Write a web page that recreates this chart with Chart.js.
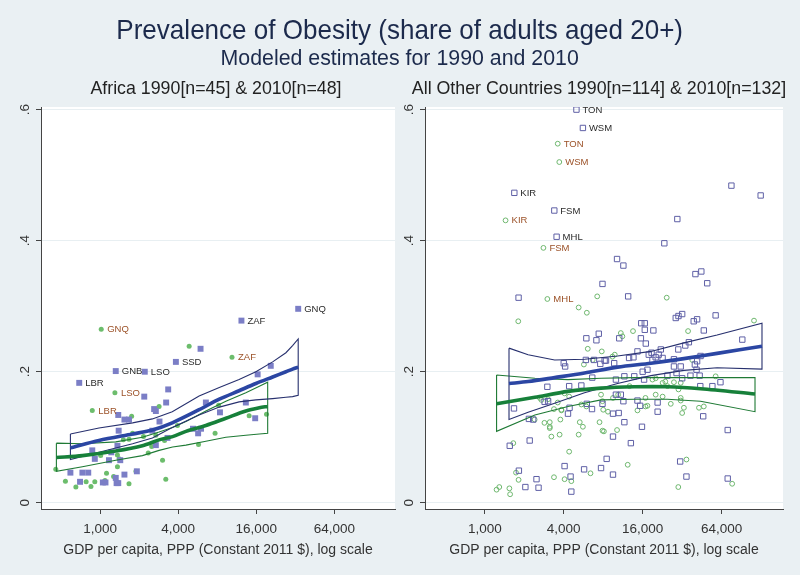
<!DOCTYPE html>
<html>
<head>
<meta charset="utf-8">
<script src="https://cdn.jsdelivr.net/npm/chart.js@4.4.0/dist/chart.umd.min.js"></script>
<style>
  html, body { margin: 0; padding: 0; background: #eaf0f3; }
  #wrap { position: relative; width: 800px; height: 575px; overflow: hidden;
          font-family: "Liberation Sans", Arial, sans-serif; }
  canvas { position: absolute; top: 0; }
  .t { position: absolute; white-space: nowrap; text-align: center; line-height: 1; }
  .t span { display: inline-block; }
  #title { left: 0; width: 800px; top: 16px; font-size: 28px; color: #1c2a4c; }
  #title span { transform: scaleX(0.93); }
  #sub { left: 0; width: 800px; top: 47px; font-size: 22px; color: #1c2a4c; }
  #sub span { transform: scaleX(0.97); }
  .panel { top: 80px; font-size: 17.8px; color: #222; }
  #pt1 { left: 0; width: 432px; }
  #pt2 { left: 400px; width: 398px; }
</style>
</head>
<body>
<div id="wrap">
  <canvas id="afr" width="400" height="575" style="left:0"></canvas>
  <canvas id="oth" width="400" height="575" style="left:400px"></canvas>
  <div class="t" id="title"><span>Prevalence of Obesity (share of adults aged 20+)</span></div>
  <div class="t" id="sub"><span>Modeled estimates for 1990 and 2010</span></div>
  <div class="t panel" id="pt1"><span>Africa 1990[n=45] &amp; 2010[n=48]</span></div>
  <div class="t panel" id="pt2"><span>All Other Countries 1990[n=114] &amp; 2010[n=132]</span></div>
</div>
<script>
// axis settings (GDP per capita, log scale / obesity share)
const X_MIN = 350, X_MAX = 188000;
const X_TICKS = [1000, 4000, 16000, 64000];
const Y_TICKS = [0, 0.2, 0.4, 0.6];
const X_TITLE = 'GDP per capita, PPP (Constant 2011 $), log scale';

// ---- Africa, 2010 (squares) ----
const afr2010Tags = ['GNQ', 'ZAF', 'SSD', 'GNB', 'LSO', 'LBR'];
const afr2010TagPts = [[33700, 0.296], [12300, 0.278], [3840, 0.215], [1320, 0.201], [2210, 0.200], [690, 0.183]];
const afr2010Pts = [
  [5950, 0.235], [20700, 0.209], [16400, 0.196], [3350, 0.173], [2190, 0.162], [3230, 0.153],
  [6540, 0.153], [13300, 0.153], [2610, 0.143], [2690, 0.140], [8400, 0.138], [1380, 0.134],
  [1540, 0.127], [1670, 0.127], [15700, 0.129], [2870, 0.124], [1390, 0.110], [5200, 0.113],
  [6000, 0.113], [5700, 0.106], [2530, 0.110], [3310, 0.099], [1360, 0.087], [2690, 0.088],
  [870, 0.080], [1220, 0.077], [910, 0.067], [1170, 0.065], [1430, 0.065], [590, 0.046],
  [730, 0.046], [810, 0.046], [1540, 0.043], [1920, 0.048], [700, 0.032], [1050, 0.031],
  [1100, 0.031], [1320, 0.038], [1340, 0.030], [1380, 0.030]
];
// ---- Africa, 1990 (circles) ----
const afr1990Tags = ['GNQ', 'ZAF', 'LSO', 'LBR'];
const afr1990TagPts = [[1020, 0.265], [10400, 0.222], [1300, 0.168], [870, 0.141]];
const afr1990Pts = [
  [4860, 0.239], [2850, 0.147], [8200, 0.149], [1750, 0.132], [14100, 0.133], [19200, 0.135],
  [3950, 0.118], [7700, 0.106], [1780, 0.106], [1510, 0.096], [1670, 0.097], [2160, 0.101],
  [3140, 0.095], [5740, 0.089], [2690, 0.103], [2350, 0.076], [2500, 0.086], [1010, 0.072],
  [1360, 0.073], [1400, 0.067], [1360, 0.055], [3030, 0.065], [455, 0.051], [1120, 0.045],
  [1270, 0.040], [1890, 0.048], [540, 0.033], [650, 0.024], [780, 0.032], [850, 0.025],
  [910, 0.032], [1090, 0.034], [1670, 0.029], [3210, 0.036]
];
// Africa smoothed fits with confidence bands
const afrGrid2010 = [590, 980, 1780, 2530, 3600, 5800, 8300, 11800, 15900, 21400, 27100, 30500, 33700];
const afrFit2010 = [0.084, 0.095, 0.105, 0.111, 0.122, 0.142, 0.158, 0.171, 0.182, 0.192, 0.200, 0.204, 0.207];
const afrUp2010 = [0.105, 0.114, 0.122, 0.128, 0.139, 0.163, 0.176, 0.188, 0.200, 0.215, 0.229, 0.240, 0.250];
const afrLo2010 = [0.066, 0.077, 0.090, 0.099, 0.115, 0.134, 0.146, 0.154, 0.157, 0.159, 0.161, 0.162, 0.164];
const afrGrid1990 = [460, 730, 1320, 2120, 2850, 3620, 4590, 6540, 9330, 13300, 16900, 19600];
const afrFit1990 = [0.069, 0.072, 0.079, 0.087, 0.096, 0.101, 0.109, 0.118, 0.129, 0.140, 0.145, 0.147];
const afrUp1990 = [0.091, 0.090, 0.093, 0.100, 0.108, 0.115, 0.124, 0.140, 0.155, 0.168, 0.178, 0.184];
const afrLo1990 = [0.048, 0.055, 0.065, 0.072, 0.080, 0.085, 0.088, 0.094, 0.100, 0.103, 0.105, 0.106];

// ---- Other countries, 2010 (squares) ----
const oth2010Tags = ['TON', 'WSM', 'KIR', 'FSM', 'MHL'];
const oth2010TagPts = [[5000, 0.600], [5600, 0.572], [1680, 0.473], [3390, 0.446], [3530, 0.406]];
const oth2010Pts = [
  [76000, 0.484], [127000, 0.469], [29400, 0.433], [23400, 0.396], [10200, 0.372], [11400, 0.362],
  [40400, 0.349], [44800, 0.353], [49700, 0.335], [7900, 0.334], [1810, 0.313], [12400, 0.315],
  [28600, 0.282], [32000, 0.288], [30000, 0.285], [57600, 0.286], [39200, 0.277], [41600, 0.280],
  [15600, 0.274], [16600, 0.274], [16600, 0.264], [19300, 0.263], [46800, 0.263], [92000, 0.249],
  [15500, 0.251], [10600, 0.251], [16900, 0.243], [36000, 0.245], [33800, 0.240], [29900, 0.234],
  [22000, 0.234], [18700, 0.229], [14600, 0.231], [7400, 0.258], [5950, 0.251], [7100, 0.248],
  [4000, 0.213], [4100, 0.208], [7600, 0.212], [6600, 0.191], [3000, 0.177], [4400, 0.178],
  [5450, 0.179], [12600, 0.221], [13600, 0.222], [20100, 0.222], [22700, 0.221], [27700, 0.219],
  [41600, 0.216], [27700, 0.208], [31200, 0.208], [40000, 0.211], [41200, 0.203], [9700, 0.213],
  [8400, 0.217], [16000, 0.200], [17400, 0.203], [24700, 0.194], [29000, 0.198], [37000, 0.194],
  [43500, 0.194], [62700, 0.184], [54400, 0.178], [11600, 0.193], [5900, 0.218], [6800, 0.218],
  [8200, 0.217], [10000, 0.188], [13800, 0.193], [16400, 0.188], [32000, 0.190], [44000, 0.178],
  [17800, 0.226], [19000, 0.218], [21200, 0.226], [44200, 0.224], [10000, 0.165], [10900, 0.165],
  [11400, 0.155], [14600, 0.156], [15300, 0.148], [20800, 0.153], [20800, 0.139], [9500, 0.136],
  [10500, 0.137], [46300, 0.132], [11600, 0.123], [15800, 0.116], [71200, 0.111], [9500, 0.101],
  [13000, 0.091], [8500, 0.067], [7700, 0.053], [30900, 0.063], [9500, 0.043], [34500, 0.040],
  [71200, 0.037], [2860, 0.154], [3040, 0.155], [1670, 0.144], [4430, 0.145], [4310, 0.136],
  [6570, 0.143], [7900, 0.151], [2170, 0.128], [2340, 0.127], [2200, 0.095], [1550, 0.087],
  [4060, 0.056], [5720, 0.051], [1820, 0.049], [2480, 0.036], [4510, 0.040], [2040, 0.024],
  [2570, 0.023], [4570, 0.017], [6000, 0.151]
];
// ---- Other countries, 1990 (circles) ----
const oth1990Tags = ['TON', 'WSM', 'KIR', 'FSM', 'MHL'];
const oth1990TagPts = [[3600, 0.548], [3700, 0.520], [1440, 0.431], [2800, 0.389], [3000, 0.311]];
const oth1990Pts = [
  [7200, 0.315], [24400, 0.313], [1800, 0.277], [5200, 0.298], [6000, 0.290], [6100, 0.235],
  [7800, 0.231], [5700, 0.211], [6650, 0.218], [113000, 0.278], [13500, 0.262], [10900, 0.259],
  [11200, 0.254], [35500, 0.262], [9400, 0.223], [9800, 0.226], [38200, 0.218], [57600, 0.193],
  [20100, 0.190], [23800, 0.185], [12300, 0.058], [34500, 0.066], [29900, 0.024], [77000, 0.029],
  [10200, 0.111], [8100, 0.109], [17400, 0.148], [14600, 0.141], [26200, 0.151], [31200, 0.156],
  [32000, 0.137], [33000, 0.145], [43000, 0.145], [46800, 0.147], [8700, 0.139], [8000, 0.142],
  [1650, 0.091], [3130, 0.123], [3130, 0.114], [3770, 0.127], [3220, 0.101], [3720, 0.104],
  [5300, 0.123], [5600, 0.116], [5200, 0.104], [7500, 0.123], [7900, 0.110], [3840, 0.141],
  [3370, 0.143], [2700, 0.157], [3040, 0.158], [4400, 0.078], [1730, 0.046], [1810, 0.035],
  [1230, 0.020], [1290, 0.024], [1540, 0.022], [1560, 0.013], [3370, 0.039], [4060, 0.036],
  [6400, 0.045], [4570, 0.033], [27700, 0.184], [24700, 0.178], [31200, 0.183], [19000, 0.188],
  [22700, 0.183], [12700, 0.178], [7700, 0.165], [7900, 0.155], [9500, 0.160], [10400, 0.165],
  [16800, 0.160], [16800, 0.147], [20100, 0.165], [22700, 0.162], [30000, 0.173], [31200, 0.160],
  [4060, 0.167], [4400, 0.162], [3840, 0.142], [3600, 0.153], [5450, 0.150], [5950, 0.147],
  [2850, 0.122], [3130, 0.116], [2400, 0.127], [2630, 0.160]
];
// Other countries smoothed fits with confidence bands
const othGrid2010 = [1530, 2140, 3410, 5760, 10300, 18500, 33000, 59100, 130000];
const othFit2010 = [0.182, 0.185, 0.191, 0.198, 0.207, 0.213, 0.220, 0.228, 0.239];
const othUp2010 = [0.236, 0.226, 0.218, 0.219, 0.224, 0.231, 0.244, 0.256, 0.274];
const othLo2010 = [0.127, 0.138, 0.152, 0.168, 0.182, 0.194, 0.202, 0.206, 0.204];
const othGrid1990 = [1230, 2410, 4310, 7710, 13800, 24700, 44200, 115000];
const othFit1990 = [0.151, 0.161, 0.170, 0.175, 0.177, 0.177, 0.174, 0.166];
const othUp1990 = [0.195, 0.190, 0.188, 0.190, 0.191, 0.191, 0.191, 0.191];
const othLo1990 = [0.109, 0.134, 0.147, 0.157, 0.158, 0.158, 0.155, 0.139];

const FONT = '"Liberation Sans", Arial, sans-serif';

const toXY = (pairs) => pairs.map(([x, y]) => ({ x, y }));
const line = (grid, vals) => grid.map((x, i) => ({ x, y: vals[i] }));
// closed outline: upper edge, back along lower edge, then close
const band = (grid, up, lo) => [...line(grid, up), ...line(grid, lo).reverse(), { x: grid[0], y: up[0] }];
const fmtShare = (v) => (v === 0 ? '0' : String(v).replace(/^0/, ''));

// white plot region
const plotBg = {
  id: 'plotBg',
  beforeDraw(chart) {
    const { ctx, chartArea: a } = chart;
    ctx.save();
    ctx.fillStyle = '#ffffff';
    ctx.fillRect(a.left, a.top, a.right - a.left, a.bottom - a.top);
    ctx.restore();
  }
};

// vertical y tick labels
const yTickText = {
  id: 'yTickText',
  afterDraw(chart) {
    const { ctx, chartArea: a } = chart;
    const ys = chart.scales.y;
    ctx.save();
    ctx.font = '13.5px ' + FONT;
    ctx.fillStyle = '#333';
    ctx.textAlign = 'center';
    ctx.textBaseline = 'middle';
    Y_TICKS.forEach(v => {
      ctx.save();
      ctx.translate(a.left - 16, ys.getPixelForValue(v));
      ctx.rotate(-Math.PI / 2);
      ctx.fillText(fmtShare(v), 0, 0);
      ctx.restore();
    });
    ctx.restore();
  }
};

// country code labels next to the first points of a dataset
const tagText = {
  id: 'tagText',
  afterDatasetsDraw(chart) {
    const { ctx } = chart;
    const xs = chart.scales.x, ys = chart.scales.y;
    chart.data.datasets.forEach(ds => {
      if (!ds.tags) return;
      ctx.save();
      ctx.font = '9.5px ' + FONT;
      ctx.fillStyle = ds.tagColor;
      ctx.textBaseline = 'middle';
      ds.tags.forEach((t, i) => {
        const p = ds.data[i];
        ctx.fillText(t, xs.getPixelForValue(p.x) + 6, ys.getPixelForValue(p.y) + 0.5);
      });
      ctx.restore();
    });
  }
};

function makePanel(id, d, padLeft, padRight, hollow) {
  const sqColor = hollow ? '#5f60a6' : '#7b7ec6';
  const ciColor = hollow ? '#6fb86f' : '#6cbd6c';
  return new Chart(document.getElementById(id), {
    type: 'scatter',
    data: {
      datasets: [
        { data: band(d.grid10, d.up10, d.lo10), showLine: true, borderColor: '#27306e', borderWidth: 1.1,
          pointRadius: 0, tension: 0, order: 3 },
        { data: band(d.grid90, d.up90, d.lo90), showLine: true, borderColor: '#1f7a35', borderWidth: 1.1,
          pointRadius: 0, tension: 0, order: 3 },
        { data: line(d.grid10, d.fit10), showLine: true, borderColor: '#2b46a3', borderWidth: 3.6,
          pointRadius: 0, tension: 0.3, order: 1 },
        { data: line(d.grid90, d.fit90), showLine: true, borderColor: '#17803a', borderWidth: 3.6,
          pointRadius: 0, tension: 0.3, order: 1 },
        { data: toXY([...d.tagPts10, ...d.pts10]), tags: d.tags10, tagColor: '#2a2a2a',
          pointStyle: 'rect', pointRadius: hollow ? 3.8 : 4.2,
          backgroundColor: hollow ? 'rgba(0,0,0,0)' : sqColor, borderColor: sqColor,
          borderWidth: hollow ? 1 : 0, order: 5 },
        { data: toXY([...d.tagPts90, ...d.pts90]), tags: d.tags90, tagColor: '#9c5228',
          pointStyle: 'circle', pointRadius: hollow ? 2.4 : 2.5,
          backgroundColor: hollow ? 'rgba(0,0,0,0)' : ciColor, borderColor: ciColor,
          borderWidth: hollow ? 1 : 0, order: 6 }
      ]
    },
    options: {
      responsive: false,
      animation: false,
      devicePixelRatio: 1,
      layout: { padding: { left: padLeft, right: padRight, top: 107, bottom: 6 } },
      plugins: { legend: { display: false }, tooltip: { enabled: false } },
      scales: {
        x: {
          type: 'logarithmic',
          min: X_MIN,
          max: X_MAX,
          afterBuildTicks: (scale) => { scale.ticks = X_TICKS.map(v => ({ value: v })); },
          afterFit: (scale) => { scale.height = 60; },
          ticks: {
            autoSkip: false, minRotation: 0, maxRotation: 0, padding: 7,
            color: '#333', font: { family: FONT, size: 13.5 },
            callback: (v) => Number(v).toLocaleString('en-US')
          },
          grid: { drawOnChartArea: false, tickLength: 5, tickColor: '#444' },
          border: { display: true, color: '#444', width: 1 },
          title: { display: true, text: X_TITLE, color: '#333', font: { family: FONT, size: 14 },
                   padding: { top: 4, bottom: 10 } }
        },
        y: {
          min: -0.0095,
          max: 0.604,
          afterBuildTicks: (scale) => { scale.ticks = Y_TICKS.map(v => ({ value: v })); },
          afterFit: (scale) => { scale.width = 25; },
          ticks: { display: false },
          grid: { color: '#e8eff2', lineWidth: 1, tickLength: 5, tickColor: '#444' },
          border: { display: true, color: '#444', width: 1 }
        }
      }
    },
    plugins: [plotBg, yTickText, tagText]
  });
}

makePanel('afr', {
  grid10: afrGrid2010, fit10: afrFit2010, up10: afrUp2010, lo10: afrLo2010,
  grid90: afrGrid1990, fit90: afrFit1990, up90: afrUp1990, lo90: afrLo1990,
  tags10: afr2010Tags, tagPts10: afr2010TagPts, pts10: afr2010Pts,
  tags90: afr1990Tags, tagPts90: afr1990TagPts, pts90: afr1990Pts
}, 16, 5, false);

makePanel('oth', {
  grid10: othGrid2010, fit10: othFit2010, up10: othUp2010, lo10: othLo2010,
  grid90: othGrid1990, fit90: othFit1990, up90: othUp1990, lo90: othLo1990,
  tags10: oth2010Tags, tagPts10: oth2010TagPts, pts10: oth2010Pts,
  tags90: oth1990Tags, tagPts90: oth1990TagPts, pts90: oth1990Pts
}, 0, 17, true);
</script>
</body>
</html>
